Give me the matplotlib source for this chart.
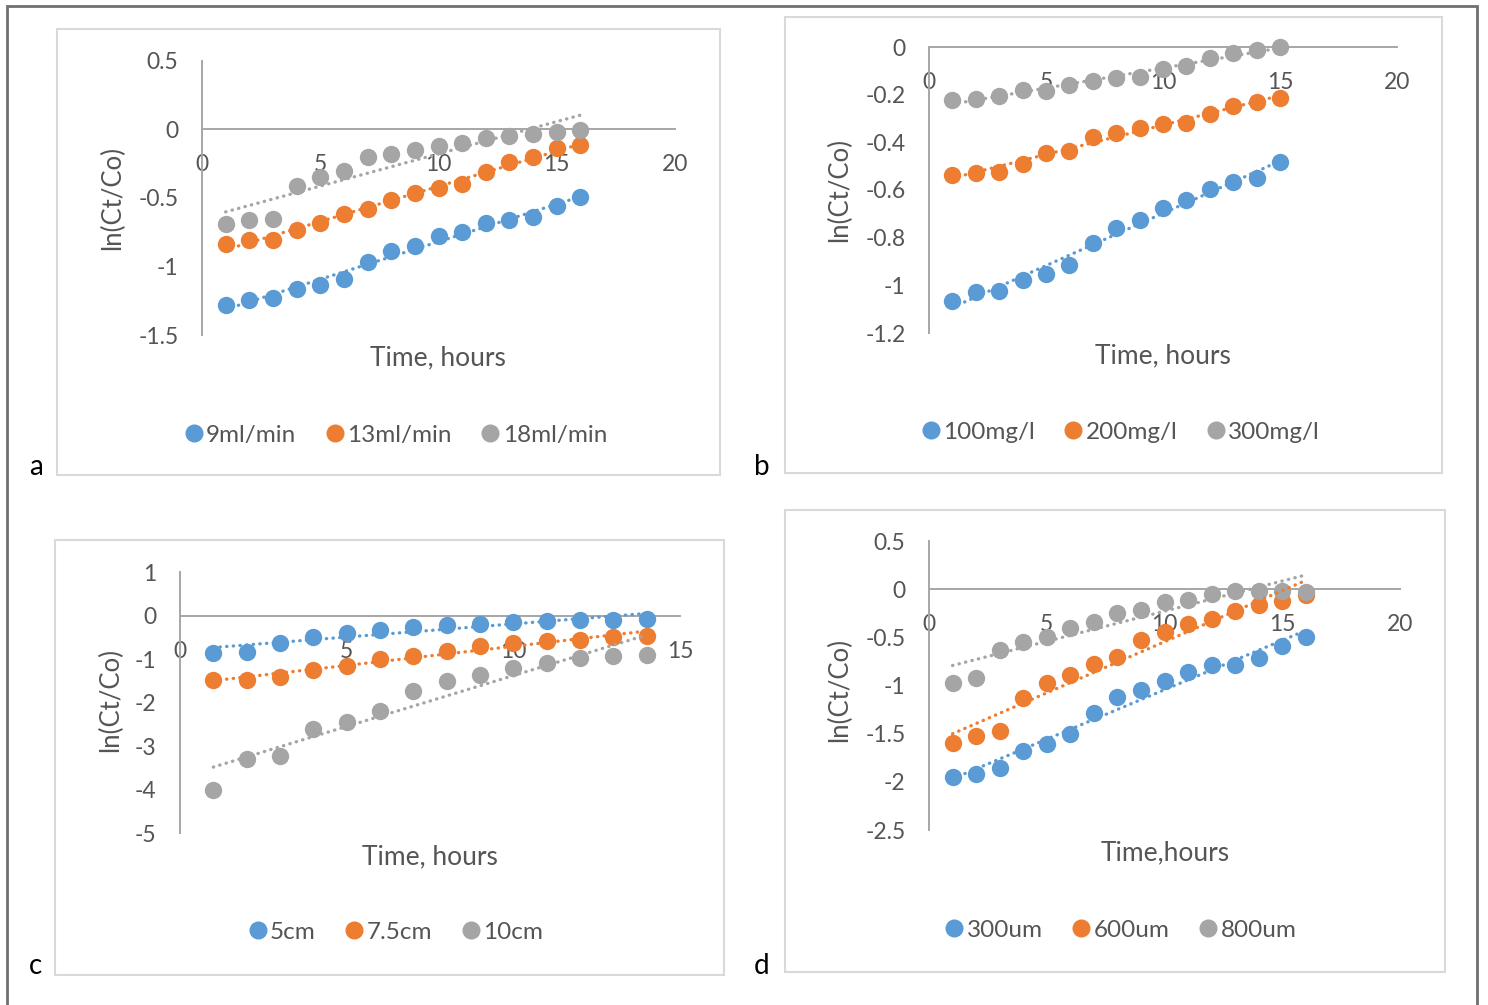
import numpy as np
import matplotlib
matplotlib.use("Agg")
import matplotlib.pyplot as plt
from matplotlib.lines import Line2D
from matplotlib.patches import Rectangle
from matplotlib.ticker import FuncFormatter

plt.rcParams['font.family'] = ['Lato', 'DejaVu Sans']
plt.rcParams['axes.unicode_minus'] = False

W, H = 1488, 1005
BLUE, ORANGE, GRAY = '#5b9bd5', '#ed7d31', '#a5a5a5'
TXT = '#555555'
AXC = '#a6a6a6'

# (a) flow rate
hours_a = list(range(1, 17))
a_9ml = [-1.28, -1.245, -1.23, -1.166, -1.135, -1.093, -0.97, -0.89, -0.85, -0.78,
         -0.75, -0.686, -0.657, -0.638, -0.56, -0.49]
a_13ml = [-0.836, -0.807, -0.81, -0.735, -0.686, -0.62, -0.577, -0.516, -0.46, -0.43,
          -0.395, -0.31, -0.237, -0.2, -0.136, -0.116]
a_18ml = [-0.69, -0.66, -0.65, -0.41, -0.35, -0.305, -0.2, -0.177, -0.148, -0.124,
          -0.097, -0.06, -0.05, -0.03, -0.015, -0.007]
labels_a = ['9ml/min', '13ml/min', '18ml/min']

# (b) initial concentration
hours_b = list(range(1, 16))
b_100 = [-1.065, -1.03, -1.024, -0.978, -0.953, -0.915, -0.822, -0.76, -0.727, -0.675,
         -0.641, -0.595, -0.567, -0.551, -0.481]
b_200 = [-0.537, -0.528, -0.526, -0.491, -0.446, -0.435, -0.377, -0.359, -0.338, -0.324,
         -0.317, -0.282, -0.248, -0.231, -0.213]
b_300 = [-0.222, -0.217, -0.206, -0.182, -0.185, -0.16, -0.143, -0.132, -0.127, -0.092,
         -0.078, -0.046, -0.025, -0.011, -0.001]
labels_b = ['100mg/l', '200mg/l', '300mg/l']

# (c) bed height
hours_c = list(range(1, 15))
c_5 = [-0.86, -0.85, -0.63, -0.5, -0.405, -0.33, -0.27, -0.21, -0.2, -0.16,
       -0.115, -0.1, -0.1, -0.085]
c_75 = [-1.49, -1.475, -1.41, -1.26, -1.15, -1.0, -0.925, -0.826, -0.71, -0.635,
        -0.58, -0.56, -0.505, -0.466]
c_10 = [-4.01, -3.31, -3.22, -2.62, -2.45, -2.2, -1.73, -1.5, -1.36, -1.21,
        -1.09, -0.98, -0.94, -0.9]
labels_c = ['5cm', '7.5cm', '10cm']

# (d) particle size
hours_d = list(range(1, 17))
d_300 = [-1.955, -1.92, -1.86, -1.68, -1.61, -1.5, -1.285, -1.12, -1.05, -0.95,
         -0.86, -0.79, -0.79, -0.71, -0.59, -0.5]
d_600 = [-1.6, -1.52, -1.47, -1.13, -0.97, -0.896, -0.774, -0.705, -0.524, -0.444,
         -0.358, -0.306, -0.229, -0.167, -0.125, -0.0625]
d_800 = [-0.97, -0.92, -0.635, -0.55, -0.5, -0.4, -0.34, -0.243, -0.22, -0.13,
         -0.115, -0.045, -0.02, -0.02, -0.02, -0.03]
labels_d = ['300um', '600um', '800um']


def px_rect(x0, y0, x1, y1):
    return [x0 / W, 1 - y1 / H, (x1 - x0) / W, (y1 - y0) / H]


def fx(x):
    return x / W


def fy(y):
    return 1 - y / H


fig = plt.figure(figsize=(W / 100, H / 100), dpi=100)

# outer frame
fig.patches.append(Rectangle((fx(7), fy(1012)), fx(1477) - fx(7), fy(6) - fy(1012),
                             transform=fig.transFigure, fill=False,
                             edgecolor='#707070', lw=2.0))


def panel(box, area, xlim, ylim, yticks, xticks, x, series, labels,
          xlabel, xlab_pos, ylab_pos, leg_pos, letter, letter_pos):
    # chart frame
    fig.patches.append(Rectangle((fx(box[0]), fy(box[3])), fx(box[2]) - fx(box[0]),
                                 fy(box[1]) - fy(box[3]), transform=fig.transFigure,
                                 fill=False, edgecolor='#d9d9d9', lw=1.5))
    ax = fig.add_axes(px_rect(*area))
    ax.set_xlim(*xlim)
    ax.set_ylim(*ylim)
    ax.patch.set_alpha(0)
    for s in ['top', 'right']:
        ax.spines[s].set_visible(False)
    ax.spines['bottom'].set_position(('data', 0))
    ax.spines['left'].set_position(('data', 0))
    for s in ['bottom', 'left']:
        ax.spines[s].set_color(AXC)
        ax.spines[s].set_linewidth(1.4)
    ax.set_xticks(xticks)
    ax.set_yticks(yticks)
    fmt = FuncFormatter(lambda v, p: '{:g}'.format(round(v, 2)))
    ax.xaxis.set_major_formatter(fmt)
    ax.yaxis.set_major_formatter(fmt)
    ax.tick_params(axis='both', length=0, labelsize=16.5, labelcolor=TXT)
    ax.tick_params(axis='x', pad=18)
    ax.tick_params(axis='y', pad=17)

    colors = [BLUE, ORANGE, GRAY]
    xs = np.array(x, dtype=float)
    handles = []
    for ys, col, lab in zip(series, colors, labels):
        ax.plot(xs, ys, 'o', ms=12.5, color=col, mec='none', zorder=3, clip_on=False)
        # linear trendline over the sampled range
        k, b = np.polyfit(xs, ys, 1)
        ax.plot(xs, k * xs + b, color=col, lw=2.4, ls=(0, (0.1, 1.9)),
                dash_capstyle='round', zorder=4, clip_on=False)
        handles.append(Line2D([], [], ls='none', marker='o', ms=13, color=col,
                              mec='none', label=lab))

    fig.text(fx(xlab_pos[0]), fy(xlab_pos[1]), xlabel, ha='center', va='center',
             fontsize=19, color=TXT)
    fig.text(fx(ylab_pos[0]), fy(ylab_pos[1]), 'ln(Ct/Co)', ha='center', va='center',
             rotation=90, fontsize=18.5, color=TXT)
    fig.legend(handles=handles, loc='center', bbox_to_anchor=(fx(leg_pos[0]), fy(leg_pos[1])),
               ncol=3, frameon=False, fontsize=17.5, handletextpad=-0.1,
               columnspacing=1.0, handlelength=1.2, labelcolor=TXT)
    fig.text(fx(letter_pos[0]), fy(letter_pos[1]), letter, ha='center', va='center',
             fontsize=20, color='black')
    return ax


panel((57, 29, 720, 475), (202, 61, 675, 335), (0, 20), (-1.5, 0.5),
      [-1.5, -1, -0.5, 0, 0.5], [0, 5, 10, 15, 20], hours_a,
      [a_9ml, a_13ml, a_18ml], labels_a, 'Time, hours', (438, 358), (113, 198),
      (393, 435), 'a', (36, 467))

panel((785, 17, 1442, 473), (929, 47, 1397, 333), (0, 20), (-1.2, 0),
      [-1.2, -1, -0.8, -0.6, -0.4, -0.2, 0], [0, 5, 10, 15, 20], hours_b,
      [b_100, b_200, b_300], labels_b, 'Time, hours', (1163, 356), (840, 190),
      (1118, 432), 'b', (762, 467))

panel((55, 540, 724, 975), (180, 572, 680, 833), (0, 15), (-5, 1),
      [-5, -4, -3, -2, -1, 0, 1], [0, 5, 10, 15], hours_c,
      [c_5, c_75, c_10], labels_c, 'Time, hours', (430, 857), (111, 700),
      (393, 932), 'c', (36, 966))

panel((785, 510, 1445, 972), (929, 541, 1400, 830), (0, 20), (-2.5, 0.5),
      [-2.5, -2, -1.5, -1, -0.5, 0, 0.5], [0, 5, 10, 15, 20], hours_d,
      [d_300, d_600, d_800], labels_d, 'Time,hours', (1165, 853), (840, 690),
      (1118, 930), 'd', (762, 966))

fig.savefig('out.png', dpi=100, facecolor='white')
